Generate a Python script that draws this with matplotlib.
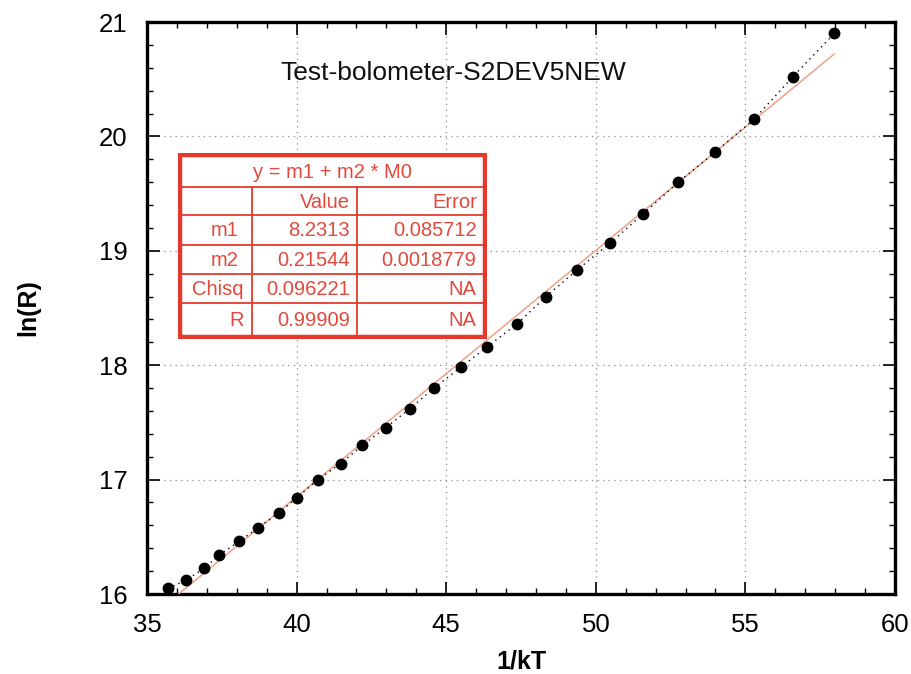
import matplotlib
matplotlib.use("Agg")
import matplotlib.pyplot as plt
from matplotlib.ticker import MultipleLocator
from matplotlib.patches import Rectangle

plt.rcParams['font.family'] = ['Liberation Sans', 'DejaVu Sans']

# ---- data ----
inv_kT = [35.71, 36.30, 36.91, 37.41, 38.08, 38.72, 39.41, 40.00, 40.71, 41.47,
          42.20, 42.98, 43.79, 44.59, 45.48, 46.37, 47.36, 48.34, 49.36, 50.47,
          51.57, 52.76, 53.98, 55.29, 56.58, 57.97]
ln_R = [16.05, 16.12, 16.225, 16.34, 16.46, 16.58, 16.71, 16.84, 17.00, 17.14,
        17.30, 17.455, 17.62, 17.80, 17.98, 18.16, 18.36, 18.60, 18.83, 19.065,
        19.32, 19.60, 19.86, 20.15, 20.52, 20.90]

fit_m1 = 8.2313
fit_m2 = 0.21544

title = "Test-bolometer-S2DEV5NEW"
x_label = "1/kT"
y_label = "ln(R)"

table_title = "y = m1 + m2 * M0"
table_cols = ["", "Value", "Error"]
table_names = ["m1", "m2", "Chisq", "R"]
table_values = ["8.2313", "0.21544", "0.096221", "0.99909"]
table_errors = ["0.085712", "0.0018779", "NA", "NA"]

# ---- figure ----
W, H = 912, 674
fig = plt.figure(figsize=(W / 100, H / 100), dpi=100)
fig.patch.set_facecolor('white')

ax_l, ax_r, ax_t, ax_b = 147, 895, 22, 594
ax = fig.add_axes([ax_l / W, 1 - ax_b / H, (ax_r - ax_l) / W, (ax_b - ax_t) / H])

ax.set_xlim(35, 60)
ax.set_ylim(16, 21)

ax.grid(True, which='major', linestyle=(0, (1, 3.5)), color='#8a8a8a', linewidth=0.9)

# fit line
fx = [min(inv_kT), max(inv_kT)]
fy = [fit_m1 + fit_m2 * v for v in fx]
ax.plot(fx, fy, color='#f0a088', linewidth=1.1, zorder=3)

# data with dotted connecting line
ax.plot(inv_kT, ln_R, linestyle=(0, (1, 3)), color='black', linewidth=1.0,
        marker='o', markersize=7.5, markerfacecolor='black', markeredgecolor='black',
        zorder=4)

ax.xaxis.set_major_locator(MultipleLocator(5))
ax.xaxis.set_minor_locator(MultipleLocator(1))
ax.yaxis.set_major_locator(MultipleLocator(1))
ax.yaxis.set_minor_locator(MultipleLocator(0.2))

ax.tick_params(which='both', direction='in', top=True, right=True, colors='black')
ax.tick_params(which='major', length=9, width=1.2, labelsize=18.5, pad=14)
ax.tick_params(which='minor', length=4, width=1.0)

for s in ax.spines.values():
    s.set_linewidth(2.4)
    s.set_color('black')

ax.set_xlabel(x_label, fontsize=18, fontweight='bold', labelpad=9)
ax.set_ylabel(y_label, fontsize=18, fontweight='bold', labelpad=42)

ax.text((453 - ax_l) / (ax_r - ax_l), (ax_b - 73) / (ax_b - ax_t), title,
        transform=ax.transAxes, ha='center', va='center', fontsize=19, color='#111111')

# ---- fit result table (pixel layout) ----
tx0, tx1, ty0, ty1 = 178, 487, 153, 339
tab = fig.add_axes([tx0 / W, 1 - ty1 / H, (tx1 - tx0) / W, (ty1 - ty0) / H])
tab.set_xlim(tx0, tx1)
tab.set_ylim(ty1, ty0)
tab.axis('off')
red = '#e5392c'
txt_red = '#e2483b'

tab.add_patch(Rectangle((tx0 + 2, ty0 + 2), tx1 - tx0 - 4, ty1 - ty0 - 4,
                        facecolor='white', edgecolor=red, linewidth=3.2, zorder=1))
row_y = [156.5, 187, 215, 244.5, 274, 303, 336]
col_x = [180.5, 252, 357, 484.5]
for yy in row_y[1:-1]:
    tab.plot([col_x[0], col_x[-1]], [yy, yy], color=red, linewidth=1.3, zorder=2)
for xx in col_x[1:-1]:
    tab.plot([xx, xx], [row_y[1], row_y[-1]], color=red, linewidth=1.3, zorder=2)

fs = 14.5
tab.text((col_x[0] + col_x[-1]) / 2, (row_y[0] + row_y[1]) / 2 + 1, table_title,
         ha='center', va='center', fontsize=fs, color=txt_red, zorder=3)
for j, c in enumerate(table_cols):
    if c:
        tab.text(col_x[j + 1] - 7, (row_y[1] + row_y[2]) / 2 + 1, c,
                 ha='right', va='center', fontsize=fs, color=txt_red, zorder=3)
for i, (n, v, e) in enumerate(zip(table_names, table_values, table_errors)):
    yc = (row_y[i + 2] + row_y[i + 3]) / 2 + 1
    pad0 = 13 if n.startswith('m') else 8
    tab.text(col_x[1] - pad0, yc, n, ha='right', va='center', fontsize=fs, color=txt_red, zorder=3)
    tab.text(col_x[2] - 7, yc, v, ha='right', va='center', fontsize=fs, color=txt_red, zorder=3)
    tab.text(col_x[3] - 8, yc, e, ha='right', va='center', fontsize=fs, color=txt_red, zorder=3)

fig.savefig('out.png', dpi=100)
